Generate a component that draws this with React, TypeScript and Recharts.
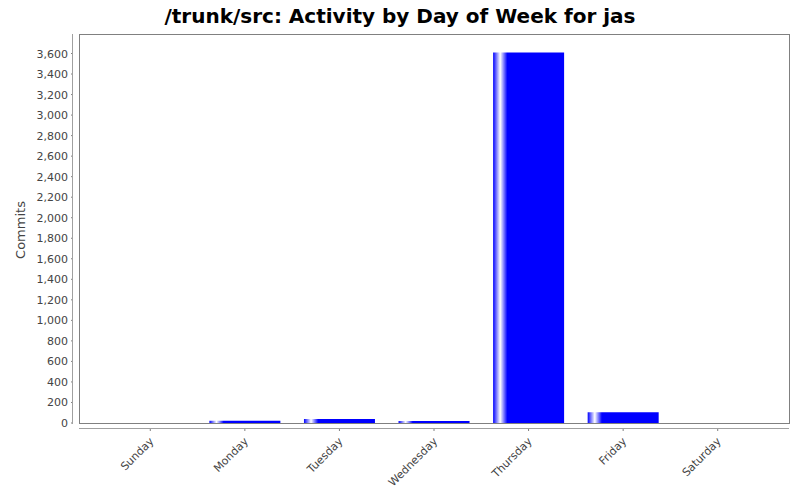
import React from 'react';
import { BarChart, Bar, XAxis, YAxis } from 'recharts';

const days = ['Sunday', 'Monday', 'Tuesday', 'Wednesday', 'Thursday', 'Friday', 'Saturday'];
const commits = [0, 22, 39, 19, 3610, 105, 0];
const yTicks = [0, 200, 400, 600, 800, 1000, 1200, 1400, 1600, 1800, 2000, 2200, 2400, 2600, 2800, 3000, 3200, 3400, 3600];
const yMax = 3790;

const data = days.map((day, i) => ({ day, commits: commits[i] }));

const font = '"DejaVu Sans", sans-serif';

const YTick = ({ x, y, payload }: any) => (
  <g>
    <line x1={x - 8} x2={x - 6} y1={y} y2={y} stroke="#808080" />
    <text x={x - 11} y={y} dy={4} textAnchor="end" fontSize={11} fill="#444" fontFamily={font}>
      {payload.value.toLocaleString('en-US')}
    </text>
  </g>
);

const XTick = ({ x, y, payload }: any) => {
  const ax = x + 4;
  const ay = y + 19;
  return (
    <g>
      <line x1={x} x2={x} y1={y + 5} y2={y + 8} stroke="#808080" />
      <text x={ax} y={ay} textAnchor="end" fontSize={11} fill="#444" fontFamily={font}
        transform={`rotate(-45, ${ax}, ${ay})`}>
        {payload.value}
      </text>
    </g>
  );
};

const AxisTitle = () => (
  <text x={25} y={230} textAnchor="middle" fontSize={13} fill="#444" fontFamily={font}
    transform="rotate(-90, 25, 230)">
    Commits
  </text>
);

const App: React.FC = () => (
  <div style={{ position: 'relative', width: 800, height: 500, background: '#fff' }}>
    <style>{'body{margin:0}'}</style>
    <div style={{ position: 'absolute', left: 0, top: 4, width: 800, textAlign: 'center', fontFamily: font, fontWeight: 'bold', fontSize: 20, color: '#000' }}>
      /trunk/src: Activity by Day of Week for jas
    </div>
    <BarChart width={800} height={500} data={data} margin={{ top: 34, right: 11, bottom: 0, left: 0 }} barCategoryGap="12.5%">
      <defs>
        <linearGradient id="barGrad" x1="0" y1="0" x2="1" y2="0">
          <stop offset="0%" stopColor="#0000ff" />
          <stop offset="10%" stopColor="#ffffff" />
          <stop offset="20%" stopColor="#0000ff" />
          <stop offset="100%" stopColor="#0000ff" />
        </linearGradient>
      </defs>
      <XAxis dataKey="day" height={77} padding={{ left: 24, right: 24 }} axisLine={false} tickLine={false}
        tickSize={0} tickMargin={0} interval={0} tick={<XTick />} />
      <YAxis width={79} domain={[0, yMax]} ticks={yTicks} interval={0} allowDataOverflow axisLine={false} tickLine={false}
        tickSize={0} tickMargin={0} tick={<YTick />} label={<AxisTitle />} />
      <Bar dataKey="commits" fill="url(#barGrad)" isAnimationActive={false} />
    </BarChart>
    <div style={{ position: 'absolute', left: 79, top: 34, width: 709, height: 388, border: '1px solid #808080', pointerEvents: 'none' }} />
    <div style={{ position: 'absolute', left: 72, top: 34, width: 1, height: 390, background: '#a0a0a0' }} />
    <div style={{ position: 'absolute', left: 79, top: 428, width: 710, height: 1, background: '#a0a0a0' }} />
  </div>
);

export default App;
